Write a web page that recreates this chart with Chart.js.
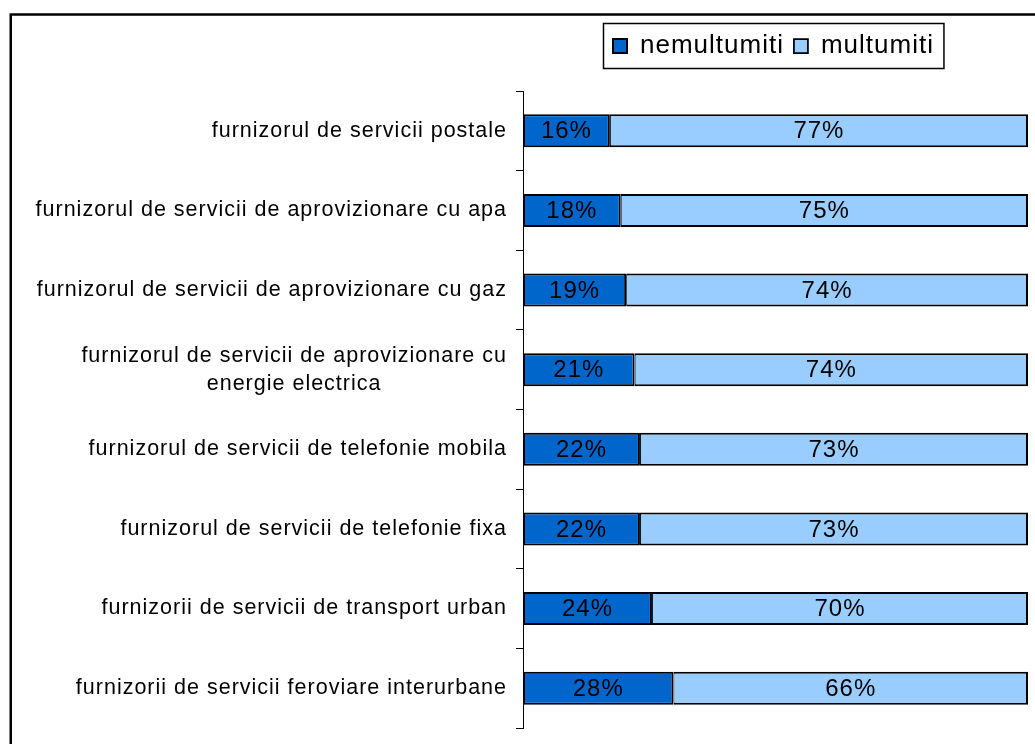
<!DOCTYPE html>
<html>
<head>
<meta charset="utf-8">
<script src="https://cdn.jsdelivr.net/npm/chart.js@4.4.1/dist/chart.umd.min.js"></script>
<style>
  html, body { margin: 0; padding: 0; background: #ffffff; }
  #wrap { width: 1035px; height: 744px; }
</style>
</head>
<body>
<div id="wrap"><canvas id="c" width="1035" height="744"></canvas></div>
<script>
// ---- data ----
const categories = [
  'furnizorul de servicii postale',
  'furnizorul de servicii de aprovizionare cu apa',
  'furnizorul de servicii de aprovizionare cu gaz',
  ['furnizorul de servicii de aprovizionare cu', 'energie electrica'],
  'furnizorul de servicii de telefonie mobila',
  'furnizorul de servicii de telefonie fixa',
  'furnizorii de servicii de transport urban',
  'furnizorii de servicii feroviare interurbane'
];
const seriesNames = ['nemultumiti', 'multumiti'];
const nemultumiti = [16, 18, 19, 21, 22, 22, 24, 28];
const multumiti = [77, 75, 74, 74, 73, 73, 70, 66];

// 100% stacked: each bar shown as share of its displayed total
const totals = nemultumiti.map((v, i) => v + multumiti[i]);
const nemShare = nemultumiti.map((v, i) => v / totals[i] * 100);
const mulShare = multumiti.map((v, i) => v / totals[i] * 100);

const FONT = "'Liberation Sans', Arial, sans-serif";
const SPACING = '1px';

const measureCtx = document.createElement('canvas').getContext('2d');

const spacingPlugin = {
  id: 'spacing',
  beforeUpdate(chart) { chart.ctx.letterSpacing = SPACING; },
  beforeDraw(chart) { chart.ctx.letterSpacing = SPACING; }
};

const framePlugin = {
  id: 'frame',
  beforeDraw(chart) {
    const ctx = chart.ctx;
    ctx.save();
    ctx.fillStyle = '#ffffff';
    ctx.fillRect(0, 0, chart.width, chart.height);
    ctx.strokeStyle = '#000000';
    ctx.lineWidth = 2.5;
    ctx.beginPath();
    ctx.moveTo(10.75, chart.height);
    ctx.lineTo(10.75, 14.5);
    ctx.lineTo(chart.width, 14.5);
    ctx.stroke();
    ctx.restore();
  },
  afterLayout(chart) {
    const lg = chart.legend;
    if (!lg) return;
    const h = lg.height;
    lg.left = 603;
    lg.right = chart.width;
    lg.top = 23;
    lg.bottom = 23 + h;
  },
  afterDraw(chart) {
    const lg = chart.legend;
    if (!lg || !lg.legendHitBoxes || !lg.legendHitBoxes.length) return;
    const pad = lg.options.labels.padding;
    const last = lg.legendHitBoxes[lg.legendHitBoxes.length - 1];
    const right = last.left + last.width + pad;
    const ctx = chart.ctx;
    ctx.save();
    ctx.strokeStyle = '#000000';
    ctx.lineWidth = 1.5;
    ctx.strokeRect(603.5, 23.5, right - 603.5, 45);
    ctx.restore();
  }
};

const valueLabelPlugin = {
  id: 'valueLabels',
  afterDatasetsDraw(chart) {
    const ctx = chart.ctx;
    const raws = [nemultumiti, multumiti];
    ctx.save();
    ctx.letterSpacing = SPACING;
    ctx.font = '24px ' + FONT;
    ctx.fillStyle = '#000000';
    ctx.textAlign = 'center';
    ctx.textBaseline = 'middle';
    chart.data.datasets.forEach((ds, di) => {
      const meta = chart.getDatasetMeta(di);
      meta.data.forEach((el, i) => {
        const p = el.getProps(['x', 'y', 'base'], true);
        ctx.fillText(raws[di][i] + '%', (p.x + p.base) / 2, p.y + 1);
      });
    });
    ctx.restore();
  }
};

new Chart(document.getElementById('c'), {
  type: 'bar',
  data: {
    labels: categories,
    datasets: [
      {
        label: seriesNames[0],
        data: nemShare,
        backgroundColor: '#0066CC',
        borderColor: '#000000',
        borderWidth: { top: 2, bottom: 2, left: 2, right: 2 },
        borderSkipped: false,
        categoryPercentage: 1,
        barPercentage: 0.415
      },
      {
        label: seriesNames[1],
        data: mulShare,
        backgroundColor: '#99CCFF',
        borderColor: '#000000',
        borderWidth: { top: 2, bottom: 2, left: 1, right: 2 },
        borderSkipped: false,
        categoryPercentage: 1,
        barPercentage: 0.415
      }
    ]
  },
  options: {
    indexAxis: 'y',
    responsive: false,
    devicePixelRatio: 1,
    animation: false,
    layout: { padding: { top: 45, right: 7, bottom: 16, left: 0 } },
    scales: {
      x: {
        stacked: true,
        display: false,
        min: 0,
        max: 100
      },
      y: {
        stacked: true,
        afterFit(scale) {
          scale.width = 523;
          scale.paddingTop = 0;
          scale.paddingBottom = 0;
        },
        grid: {
          offset: true,
          drawOnChartArea: false,
          drawTicks: true,
          tickLength: 7,
          color: '#000000',
          lineWidth: 1
        },
        border: { display: true, color: '#000000', width: 1 },
        ticks: {
          color: '#000000',
          padding: 9,
          font: { family: FONT, size: 21.5, lineHeight: 1.3 },
          callback(value) {
            const lbl = this.getLabelForValue(value);
            if (!Array.isArray(lbl)) return lbl;
            measureCtx.font = '21.5px ' + FONT;
            measureCtx.letterSpacing = SPACING;
            const ws = lbl.map(s => measureCtx.measureText(s).width);
            const maxW = Math.max(...ws);
            const sp = measureCtx.measureText(' ').width;
            return lbl.map((s, k) => s + ' '.repeat(Math.round((maxW - ws[k]) / 2 / sp)));
          }
        }
      }
    },
    plugins: {
      legend: {
        display: true,
        position: 'top',
        align: 'start',
        labels: {
          color: '#000000',
          font: { family: FONT, size: 26 },
          boxWidth: 14,
          boxHeight: 14,
          padding: 10
        }
      },
      tooltip: { enabled: false }
    }
  },
  plugins: [spacingPlugin, framePlugin, valueLabelPlugin]
});
</script>
</body>
</html>
